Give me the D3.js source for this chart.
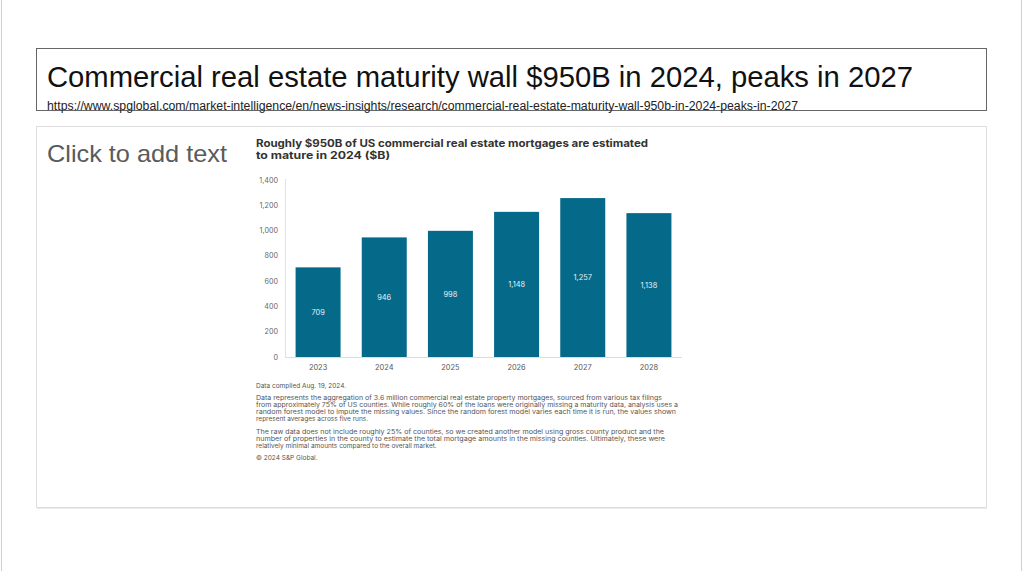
<!DOCTYPE html>
<html>
<head>
<meta charset="utf-8">
<script src="https://cdn.jsdelivr.net/npm/d3@7"></script>
<style>
  html, body { margin: 0; padding: 0; background: #fff; }
  svg { display: block; }
</style>
</head>
<body>
<svg id="chart" width="1024" height="571"></svg>
<script>
// ---- data ----
const years = ["2023", "2024", "2025", "2026", "2027", "2028"];
const maturities = [709, 946, 998, 1148, 1257, 1138];
const yTicks = [0, 200, 400, 600, 800, 1000, 1200, 1400];
const pageTitle = "Commercial real estate maturity wall $950B in 2024, peaks in 2027";
const pageUrl = "https://www.spglobal.com/market-intelligence/en/news-insights/research/commercial-real-estate-maturity-wall-950b-in-2024-peaks-in-2027";
const placeholder = "Click to add text";
const chartTitle = ["Roughly $950B of US commercial real estate mortgages are estimated", "to mature in 2024 ($B)"];
const notes = [
  ["Data compiled Aug. 19, 2024."],
  ["Data represents the aggregation of 3.6 million commercial real estate property mortgages, sourced from various tax filings",
   "from approximately 75% of US counties. While roughly 60% of the loans were originally missing a maturity data, analysis uses a",
   "random forest model to impute the missing values. Since the random forest model varies each time it is run, the values shown",
   "represent averages across five runs."],
  ["The raw data does not include roughly 25% of counties, so we created another model using gross county product and the",
   "number of properties in the county to estimate the total mortgage amounts in the missing counties. Ultimately, these were",
   "relatively minimal amounts compared to the overall market."],
  ["\u00A9 2024 S&P Global."]
];
// rendered widths of the long note lines; null = natural width
const noteLineWidths = [[null], [406, 422, 420, null], [408, 409, null], [null]];

const svg = d3.select("#chart");

// page frame lines
svg.append("line").attr("x1", 1.5).attr("x2", 1.5).attr("y1", 0).attr("y2", 571).attr("stroke", "#cfcfcf");
svg.append("line").attr("x1", 1021.5).attr("x2", 1021.5).attr("y1", 0).attr("y2", 571).attr("stroke", "#cfcfcf");

// title box
svg.append("rect").attr("x", 36.5).attr("y", 48.5).attr("width", 950).attr("height", 62)
  .attr("fill", "#fff").attr("stroke", "#666").attr("stroke-width", 1);
svg.append("text").attr("x", 47).attr("y", 87)
  .attr("font-family", "Liberation Sans, Arial, sans-serif").attr("font-size", 30).attr("fill", "#111")
  .attr("textLength", 866).attr("lengthAdjust", "spacingAndGlyphs")
  .text(pageTitle);
svg.append("text").attr("x", 47).attr("y", 109.5)
  .attr("font-family", "Liberation Sans, Arial, sans-serif").attr("font-size", 12.5).attr("fill", "#222")
  .attr("textLength", 751).attr("lengthAdjust", "spacingAndGlyphs")
  .text(pageUrl);

// content box with light shadow
svg.append("rect").attr("x", 37).attr("y", 128).attr("width", 950).attr("height", 381).attr("fill", "#ebebeb");
svg.append("rect").attr("x", 36.5).attr("y", 126.5).attr("width", 950).attr("height", 381)
  .attr("fill", "#fff").attr("stroke", "#dedede");

svg.append("text").attr("x", 47).attr("y", 162)
  .attr("font-family", "Liberation Sans, Arial, sans-serif").attr("font-size", 24).attr("fill", "#5a5a5a")
  .attr("textLength", 180).attr("lengthAdjust", "spacingAndGlyphs")
  .text(placeholder);

// chart title
const ct = svg.append("g").attr("font-family", "Inter, Roboto, sans-serif").attr("font-weight", 700)
  .attr("font-size", 10.3).attr("fill", "#333");
ct.append("text").attr("x", 256).attr("y", 147).attr("textLength", 392).attr("lengthAdjust", "spacingAndGlyphs").text(chartTitle[0]);
ct.append("text").attr("x", 256).attr("y", 159).attr("textLength", 134).attr("lengthAdjust", "spacingAndGlyphs").text(chartTitle[1]);

// scales
const x = d3.scaleBand().domain(years).range([285, 682]).paddingInner(0.32).paddingOuter(0.16);
const y = d3.scaleLinear().domain([0, 1400]).range([357, 180]);

// y axis line
svg.append("line").attr("x1", 285.5).attr("x2", 285.5).attr("y1", 179).attr("y2", 357).attr("stroke", "#e2e2e2");

// bars
svg.append("g").selectAll("rect").data(maturities).join("rect")
  .attr("x", (d, i) => x(years[i]))
  .attr("y", d => y(d))
  .attr("width", x.bandwidth())
  .attr("height", d => y(0) - y(d))
  .attr("fill", "#05698a");

svg.append("line").attr("x1", 285).attr("x2", 682).attr("y1", 357.5).attr("y2", 357.5).attr("stroke", "#dcdcdc");

// bar labels
svg.append("g").selectAll("text").data(maturities).join("text")
  .attr("x", (d, i) => x(years[i]) + x.bandwidth() / 2)
  .attr("y", d => (y(d) + y(0)) / 2 + 2.6)
  .attr("text-anchor", "middle")
  .attr("font-family", "Inter, Roboto, sans-serif").attr("font-size", 7.4).attr("fill", "#e8f0f4")
  .text(d => d3.format(",")(d));

// y tick labels
const fmt = d3.format(",");
svg.append("g").selectAll("text").data(yTicks).join("text")
  .attr("x", 278).attr("y", d => y(d) + 2.5)
  .attr("text-anchor", "end")
  .attr("font-family", "Inter, Roboto, sans-serif").attr("font-size", 7.2).attr("fill", "#666")
  .text(d => fmt(d));

// x tick labels
svg.append("g").selectAll("text").data(years).join("text")
  .attr("x", d => x(d) + x.bandwidth() / 2).attr("y", 369.5)
  .attr("text-anchor", "middle")
  .attr("font-family", "Inter, Roboto, sans-serif").attr("font-size", 7.4).attr("fill", "#555")
  .text(d => d);

// notes
const ng = svg.append("g").attr("font-family", "Inter, Roboto, sans-serif").attr("font-size", 6.5).attr("fill", "#555");
let yy = 387.5;
notes.forEach((para, pi) => {
  if (pi > 0) yy += 5;
  para.forEach((line, li) => {
    const t = ng.append("text").attr("x", 256).attr("y", yy).text(line);
    const w = noteLineWidths[pi][li];
    if (w) t.attr("textLength", w).attr("lengthAdjust", "spacingAndGlyphs");
    yy += 7.2;
  });
});
</script>
</body>
</html>
